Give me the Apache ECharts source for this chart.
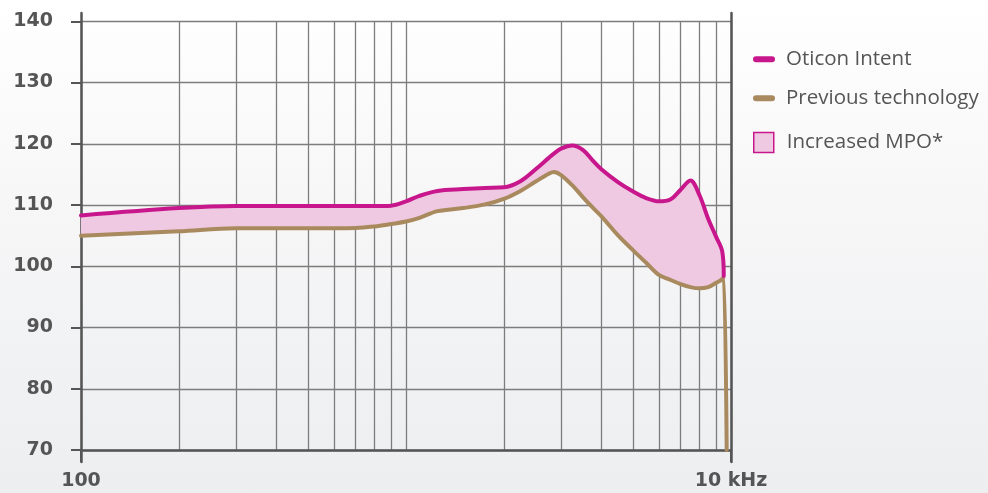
<!DOCTYPE html>
<html>
<head>
<meta charset="utf-8">
<script src="https://cdn.jsdelivr.net/npm/echarts@6/dist/echarts.min.js"></script>
<style>
  html, body { margin: 0; padding: 0; width: 988px; height: 493px; overflow: hidden;
    background: linear-gradient(to bottom, #ffffff 0%, #f6f6f7 45%, #eceef0 100%); }
  #chart { width: 988px; height: 493px; }
</style>
</head>
<body>
<div id="chart"></div>
<script>
// ---- data ----
const freqs = [100, 200, 300, 500, 700, 800, 900, 1000, 1100, 1250, 1500, 1750, 2000, 2250, 2500, 2750, 2850, 3000, 3250, 3500, 3750, 4000, 4500, 5000, 5500, 6000, 6500, 7000, 7500, 8000, 8500, 9000, 9400, 9500];
const intent = [108.3, 109.5, 109.85, 109.85, 109.85, 109.85, 109.9, 110.6, 111.5, 112.3, 112.6, 112.8, 112.9, 113.9, 115.8, 117.7, 118.4, 119.2, 119.7, 119.0, 117.3, 115.8, 113.7, 112.2, 111.1, 110.6, 110.9, 112.5, 114.0, 111.6, 107.8, 104.8, 102.4, 98.4];
const previous = [105.0, 105.7, 106.2, 106.2, 106.25, 106.5, 106.9, 107.3, 107.9, 109.0, 109.5, 110.1, 111.0, 112.3, 113.8, 115.1, 115.4, 114.9, 113.2, 111.3, 109.6, 108.1, 105.0, 102.6, 100.5, 98.6, 97.8, 97.1, 96.6, 96.4, 96.6, 97.3, 97.9, 98.3];
const previousTailFreqs = [9700];
const previousTailValues = [70];
const seriesNames = ['Oticon Intent', 'Previous technology', 'Increased MPO*'];
const yTicks = [70, 80, 90, 100, 110, 120, 130, 140];
const xGridValues = [100, 200, 300, 400, 500, 600, 700, 800, 900, 1000, 2000, 3000, 4000, 5000, 6000, 7000, 8000, 9000, 10000];
const xTickValues = [100, 10000];
const xTickLabels = ['100', '10 kHz'];

// ---- styling ----
const MAGENTA = '#c8178c';
const TAN = '#a98a5e';
const PINK = '#efc9e1';
const AXIS = '#555555';
const GRIDC = '#7d7d7d';
const SMOOTH = 0.35;

const intentPts = freqs.map((f, i) => [f, intent[i]]);
const prevPts = freqs.map((f, i) => [f, previous[i]])
  .concat(previousTailFreqs.map((f, i) => [f, previousTailValues[i]]));
const bandData = freqs.map((f, i) => [f, intent[i], previous[i]]);

function renderBand(params, api) {
  if (params.dataIndex !== 0) return null;
  const top = freqs.map((f, i) => api.coord([f, intent[i]]));
  const bottom = freqs.map((f, i) => api.coord([f, previous[i]])).reverse();
  return {
    type: 'polygon',
    shape: { points: top.concat(bottom) },
    style: { fill: PINK, stroke: PINK, lineWidth: 1 }
  };
}

const chart = echarts.init(document.getElementById('chart'), null, { renderer: 'canvas' });
const labelFont = { fontFamily: 'DejaVu Sans', fontWeight: 'bold', fontSize: 19, color: '#555' };
const legendText = { fontFamily: 'Open Sans', fontSize: 20.5, color: '#555', lineHeight: 24 };
const frameAxisLine = { show: true, lineStyle: { color: AXIS, width: 2.5 } };

chart.setOption({
  backgroundColor: 'transparent',
  animation: false,
  grid: [
    { left: 81, right: 257, top: 21.3, bottom: 43, containLabel: false },
    // frame grid: only carries the axis lines that run a little past the plot
    { left: 81, right: 257, top: 13, bottom: 31, containLabel: false }
  ],
  legend: [
    {
      left: 753, top: 47.3, orient: 'vertical', itemGap: 15, padding: 0,
      itemWidth: 22, itemHeight: 6,
      icon: 'path://M3,0 L19,0 A3,3 0 0 1 19,6 L3,6 A3,3 0 0 1 3,0 Z',
      textStyle: Object.assign({ padding: [0, 0, 0, 6] }, legendText), selectedMode: false,
      data: [seriesNames[0], seriesNames[1]]
    },
    {
      left: 753, top: 130.5, orient: 'vertical', padding: 0,
      itemWidth: 20, itemHeight: 20, icon: 'rect',
      textStyle: Object.assign({ padding: [0, 0, 0, 8] }, legendText), selectedMode: false,
      data: [{ name: seriesNames[2], itemStyle: { color: PINK, borderColor: MAGENTA, borderWidth: 1.5 } }]
    }
  ],
  xAxis: [
    {
      gridIndex: 0, type: 'log', logBase: 10, min: 100, max: 10000, position: 'bottom',
      axisLine: { show: false },
      axisTick: { show: false, customValues: xGridValues },
      axisLabel: { show: false },
      splitLine: { show: true, lineStyle: { color: GRIDC, width: 1.3 } }
    },
    {
      gridIndex: 0, type: 'log', logBase: 10, min: 100, max: 10000, position: 'bottom',
      axisLine: { show: true, lineStyle: { color: AXIS, width: 2.5 } },
      axisTick: { show: true, customValues: xTickValues, length: 12, lineStyle: { color: AXIS, width: 2 } },
      axisLabel: Object.assign({
        show: true, customValues: xTickValues, margin: 22,
        formatter: v => xTickLabels[xTickValues.indexOf(v)] ?? ''
      }, labelFont),
      splitLine: { show: false }
    },
    { gridIndex: 1, type: 'value', min: 0, max: 1, show: false }
  ],
  yAxis: [
    {
      gridIndex: 0, type: 'value', min: yTicks[0], max: yTicks[yTicks.length - 1], interval: 10, position: 'left',
      axisLine: { show: false },
      axisTick: { show: true, length: 10, inside: false, lineStyle: { color: AXIS, width: 2 } },
      axisLabel: Object.assign({ margin: 28 }, labelFont),
      splitLine: { show: true, lineStyle: { color: GRIDC, width: 1.3 } }
    },
    { gridIndex: 1, type: 'value', min: 0, max: 1, position: 'left',
      axisLine: frameAxisLine, axisTick: { show: false }, axisLabel: { show: false }, splitLine: { show: false } },
    { gridIndex: 1, type: 'value', min: 0, max: 1, position: 'right',
      axisLine: frameAxisLine, axisTick: { show: false }, axisLabel: { show: false }, splitLine: { show: false } }
  ],
  series: [
    {
      name: seriesNames[2], type: 'custom', renderItem: renderBand, data: bandData,
      xAxisIndex: 0, yAxisIndex: 0,
      encode: { x: 0, y: [1, 2] }, itemStyle: { color: PINK }, silent: true, z: 2, clip: true
    },
    {
      name: seriesNames[1], type: 'line', data: prevPts, smooth: SMOOTH, symbol: 'none',
      xAxisIndex: 0, yAxisIndex: 0,
      itemStyle: { color: TAN }, lineStyle: { color: TAN, width: 4, cap: 'round', join: 'round' }, z: 3
    },
    {
      name: seriesNames[0], type: 'line', data: intentPts, smooth: SMOOTH, symbol: 'none',
      xAxisIndex: 0, yAxisIndex: 0,
      itemStyle: { color: MAGENTA }, lineStyle: { color: MAGENTA, width: 4, cap: 'round', join: 'round' }, z: 4
    }
  ]
});
</script>
</body>
</html>
